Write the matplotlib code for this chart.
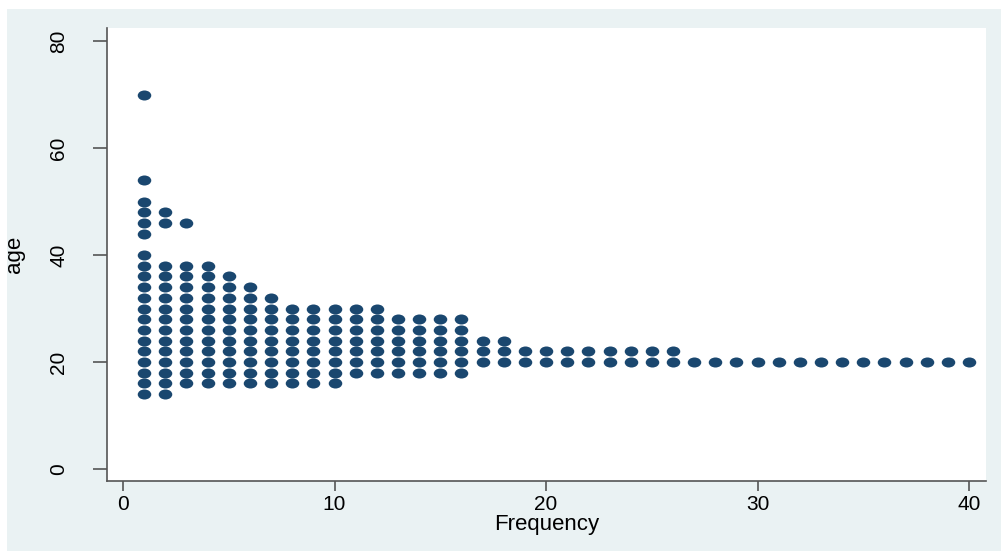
import matplotlib
matplotlib.use('Agg')
import matplotlib.pyplot as plt
from matplotlib.path import Path
from matplotlib.transforms import Affine2D
from matplotlib.patches import Rectangle

plt.rcParams['font.family'] = ['Liberation Sans', 'DejaVu Sans']

# age bins and how many people fall in each (dots stacked along x)
ages = [14, 16, 18, 20, 22, 24, 26, 28, 30, 32, 34, 36, 38, 40, 44, 46, 48, 50, 54, 70]
counts = [2, 10, 16, 40, 26, 18, 16, 16, 12, 7, 6, 5, 4, 1, 1, 3, 2, 1, 1, 1]

x_ticks = [0, 10, 20, 30, 40]
y_ticks = [0, 20, 40, 60, 80]

xs = []
ys = []
for a, c in zip(ages, counts):
    for k in range(1, c + 1):
        xs.append(k)
        ys.append(a)

navy = '#1a476f'
bg = '#eaf2f3'
axcol = '#555555'

# slightly wide ellipse marker
ell = Path.unit_circle().transformed(Affine2D().scale(1.35, 1.0))

fig = plt.figure(figsize=(10.01, 5.51), dpi=100, facecolor='white')
fig.patches.append(Rectangle((7 / 1001, 0), 1, (551 - 9) / 551,
                             transform=fig.transFigure, facecolor=bg,
                             edgecolor='none', zorder=-10))

ax = fig.add_axes([107 / 1001, (551 - 481) / 551, 879 / 1001, 453 / 551])
ax.set_facecolor('white')
ax.scatter(xs, ys, marker=ell, s=95, color=navy, linewidths=0, zorder=3)

ax.set_xlim(-0.757, 40.80)
ax.set_ylim(-2.24, 82.43)
ax.set_xticks(x_ticks)
ax.set_yticks(y_ticks)
ax.set_yticklabels([str(v) for v in y_ticks], rotation=90, va='center')

for s in ['top', 'right']:
    ax.spines[s].set_visible(False)
for s in ['left', 'bottom']:
    ax.spines[s].set_color(axcol)
    ax.spines[s].set_linewidth(1.2)

ax.tick_params(axis='x', length=7, width=1.2, color=axcol, labelsize=15, pad=3)
ax.tick_params(axis='y', length=10, width=1.2, color=axcol, labelsize=15, pad=18)

ax.set_xlabel('Frequency', fontsize=16, labelpad=0)
ax.set_ylabel('age', fontsize=16)
ax.yaxis.set_label_coords(-0.0935, 0.5)

fig.savefig('out.png', dpi=100, facecolor=fig.get_facecolor())
